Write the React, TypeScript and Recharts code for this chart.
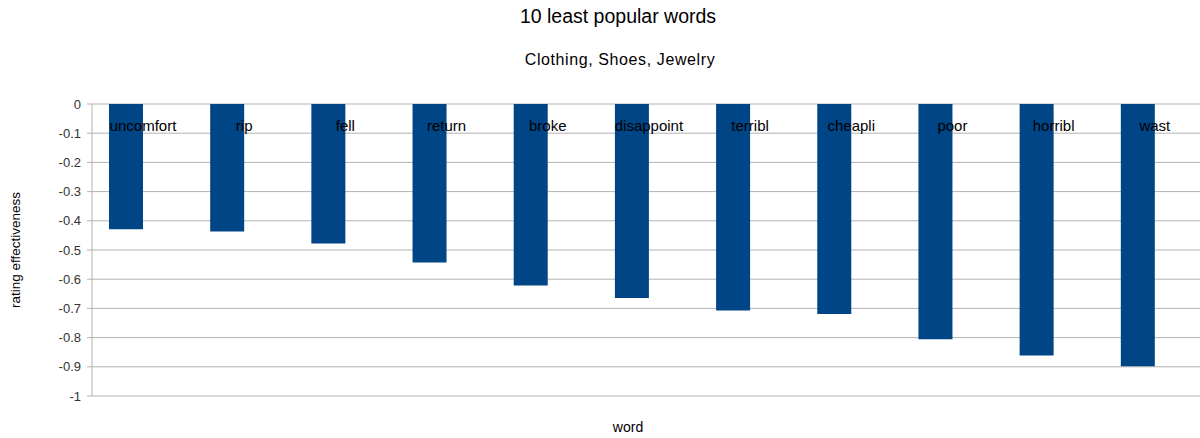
import { Bar, BarChart, CartesianGrid, LabelList, XAxis, YAxis } from "recharts";

const words = [
  "uncomfort",
  "rip",
  "fell",
  "return",
  "broke",
  "disappoint",
  "terribl",
  "cheapli",
  "poor",
  "horribl",
  "wast",
];

const effectiveness = [
  -0.429, -0.437, -0.478, -0.543, -0.622, -0.664, -0.707, -0.719, -0.806, -0.861, -0.898,
];

const yTicks = [0, -0.1, -0.2, -0.3, -0.4, -0.5, -0.6, -0.7, -0.8, -0.9, -1];

const title = "10 least popular words";
const subtitle = "Clothing, Shoes, Jewelry";

const FONT = "'Liberation Sans', Arial, sans-serif";
const BAR_COLOR = "#004586";
const GRID_COLOR = "#b3b3b3";

const chartData = words.map((word, i) => ({ word, value: effectiveness[i] }));
const separatorTicks = words.slice(1).map((_, i) => i + 1);

function WordLabel(props: any) {
  const { x, y, width, height, value } = props;
  const top = Math.min(y, y + height);
  return (
    <text
      x={x + width}
      y={top + 27}
      textAnchor="middle"
      fontFamily={FONT}
      fontSize={15}
      fill="#000"
    >
      {value}
    </text>
  );
}

export default function App() {
  return (
    <div
      style={{
        position: "fixed",
        left: 0,
        top: 0,
        width: 1200,
        height: 438,
        overflow: "hidden",
        background: "#fff",
        fontFamily: FONT,
      }}
    >
      <div
        style={{
          position: "absolute",
          left: 0,
          width: 1236,
          top: 5,
          textAlign: "center",
          fontSize: 19.5,
          color: "#000",
        }}
      >
        {title}
      </div>
      <div
        style={{
          position: "absolute",
          left: 0,
          width: 1240,
          top: 51,
          textAlign: "center",
          fontSize: 16,
          letterSpacing: 0.6,
          color: "#000",
        }}
      >
        {subtitle}
      </div>
      <div
        style={{
          position: "absolute",
          left: 15,
          top: 250,
          transform: "translate(-50%, -50%) rotate(-90deg)",
          whiteSpace: "nowrap",
          fontSize: 13.5,
          color: "#000",
        }}
      >
        rating effectiveness
      </div>
      <div
        style={{
          position: "absolute",
          left: 628,
          top: 427,
          transform: "translate(-50%, -50%)",
          fontSize: 14,
          color: "#000",
        }}
      >
        word
      </div>
      <BarChart
        width={1206}
        height={438}
        data={chartData}
        margin={{ top: 104, right: 1, bottom: 42, left: 0 }}
        barSize={34}
        barGap={0}
      >
        <CartesianGrid vertical={false} stroke={GRID_COLOR} strokeWidth={1} />
        <XAxis xAxisId="cat" dataKey="word" orientation="top" height={0} hide />
        <XAxis
          xAxisId="sep"
          type="number"
          orientation="top"
          domain={[0, words.length]}
          ticks={separatorTicks}
          allowDataOverflow
          height={0}
          mirror
          tick={false}
          tickSize={5}
          tickLine={{ stroke: GRID_COLOR }}
          axisLine={{ stroke: GRID_COLOR }}
        />
        <YAxis
          domain={[-1, 0]}
          ticks={yTicks}
          width={92}
          interval={0}
          tickSize={5}
          tickMargin={6}
          axisLine={{ stroke: GRID_COLOR }}
          tickLine={{ stroke: GRID_COLOR }}
          tick={{ fontFamily: FONT, fontSize: 13, fill: "#333" }}
        />
        <Bar xAxisId="cat" dataKey="value" fill={BAR_COLOR} isAnimationActive={false}>
          <LabelList dataKey="word" content={WordLabel} />
        </Bar>
        <Bar xAxisId="cat" dataKey="unused" fill="transparent" isAnimationActive={false} />
      </BarChart>
    </div>
  );
}
